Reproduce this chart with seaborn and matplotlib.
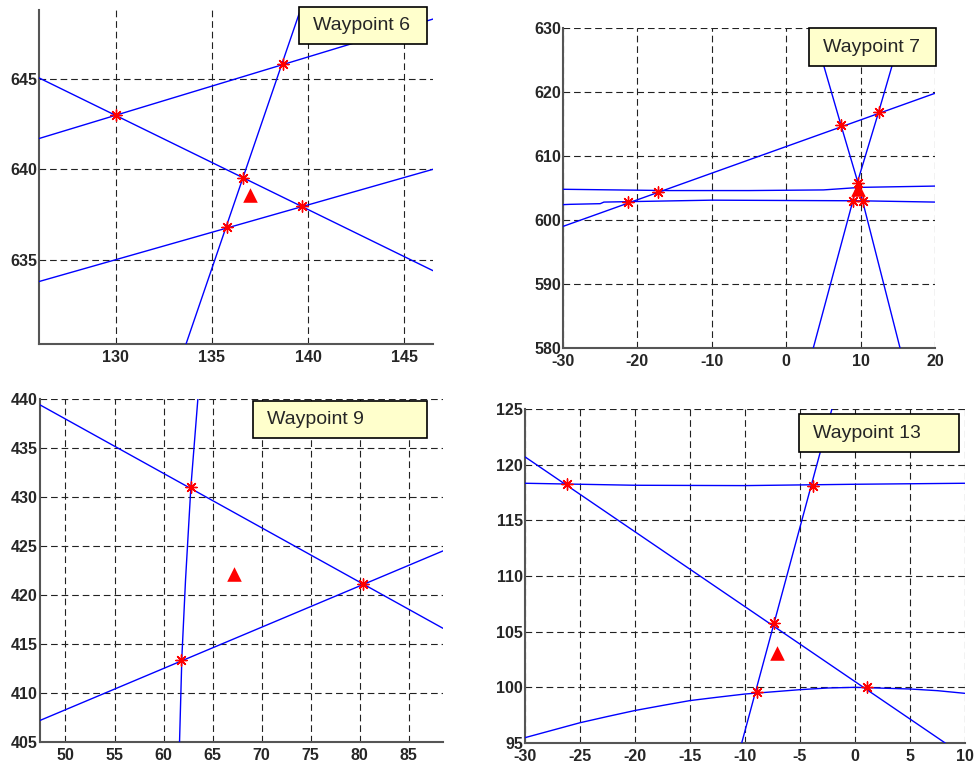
import numpy as np
import pandas as pd
import matplotlib
matplotlib.use("Agg")
import matplotlib.pyplot as plt
import matplotlib.patches as mpatches
import seaborn as sns

sns.set_style("white")
plt.rcParams['font.family'] = ['Liberation Sans', 'DejaVu Sans']
plt.rcParams['axes.unicode_minus'] = False

# ---------------- data ----------------
# Waypoint 6
wp6_lines_x = [[126, 146.5], [126, 146.5], [126, 146.5], [133.65, 139.6]]
wp6_lines_y = [[641.7, 648.3], [645.05, 634.4], [633.8, 640.0], [630.35, 648.8]]
wp6_star_x = [130.0, 138.7, 136.6, 139.7, 135.8]
wp6_star_y = [643.0, 645.8, 639.5, 638.0, 636.8]
wp6_tri_x = [137.0]
wp6_tri_y = [638.6]
wp6_xticks = [130, 135, 140, 145]
wp6_yticks = [635, 640, 645]

# Waypoint 7
wp7_lines_x = [[-30, 20],
               [-30, -16, -5, 5, 10, 20],
               [-30, -29, -25, -24.5, -10, 10, 20],
               [3.6, 5.0, 7.37, 9.6, 10.28, 15.3],
               [3.64, 8.94, 9.6, 12.43, 15.7]]
wp7_lines_y = [[599.0, 619.8],
               [604.8, 604.6, 604.6, 604.7, 605.1, 605.3],
               [602.4, 602.45, 602.55, 602.8, 603.1, 603.0, 602.8],
               [630.0, 624.3, 614.8, 606.0, 602.9, 580.0],
               [580.0, 602.9, 606.0, 616.9, 630.0]]
wp7_star_x = [-21.2, -17.2, 7.37, 12.43, 8.94, 10.28, 9.6]
wp7_star_y = [602.8, 604.4, 614.8, 616.9, 602.9, 602.9, 605.8]
wp7_tri_x = [9.6]
wp7_tri_y = [604.9]
wp7_xticks = [-30, -20, -10, 0, 10, 20]
wp7_yticks = [580, 590, 600, 610, 620, 630]

# Waypoint 9
wp9_lines_x = [[47.4, 88.5], [47.4, 88.5], [61.63, 61.87, 62.24, 62.79, 63.5]]
wp9_lines_y = [[439.4, 416.6], [407.2, 424.5], [405.0, 413.7, 421.5, 431.05, 440.0]]
wp9_star_x = [62.8, 61.8, 80.3]
wp9_star_y = [431.0, 413.4, 421.1]
wp9_tri_x = [67.2]
wp9_tri_y = [422.1]
wp9_xticks = [50, 55, 60, 65, 70, 75, 80, 85]
wp9_yticks = [405, 410, 415, 420, 425, 430, 435, 440]

# Waypoint 13
wp13_lines_x = [[-30, 8.2],
                [-30, -20, -10, 0, 10],
                [-10.3, -2.1],
                [-30, -25, -22.5, -20, -17.4, -15, -12.6, -10, -5, -2.5, 0, 5, 7.5, 10]]
wp13_lines_y = [[120.7, 95.0],
                [118.33, 118.15, 118.12, 118.24, 118.33],
                [95.0, 125.0],
                [95.48, 96.82, 97.38, 97.92, 98.39, 98.81, 99.1, 99.40, 99.79, 99.94,
                 100.0, 99.85, 99.7, 99.46]]
wp13_star_x = [-26.15, -3.79, -7.33, -8.94, 1.1]
wp13_star_y = [118.24, 118.1, 105.77, 99.55, 100.0]
wp13_tri_x = [-7.1]
wp13_tri_y = [103.1]
wp13_xticks = [-30, -25, -20, -15, -10, -5, 0, 5, 10]
wp13_yticks = [95, 100, 105, 110, 115, 120, 125]

labels = ["Waypoint 6", "Waypoint 7", "Waypoint 9", "Waypoint 13"]

# ---------------- layout ----------------
W, H = 976, 767
fig = plt.figure(figsize=(W / 100, H / 100), dpi=100)


def px_rect(l, t, r, b):
    return [l / W, 1 - b / H, (r - l) / W, (b - t) / H]


panels = [
    dict(rect=px_rect(39, 10, 433, 344), lx=wp6_lines_x, ly=wp6_lines_y,
         sx=wp6_star_x, sy=wp6_star_y, tx=wp6_tri_x, ty=wp6_tri_y,
         xt=wp6_xticks, yt=wp6_yticks, xlim=(126, 146.5), ylim=(630.35, 648.8),
         box=(299, 7, 427, 44), txt=(313, 26)),
    dict(rect=px_rect(563, 28, 935, 348), lx=wp7_lines_x, ly=wp7_lines_y,
         sx=wp7_star_x, sy=wp7_star_y, tx=wp7_tri_x, ty=wp7_tri_y,
         xt=wp7_xticks, yt=wp7_yticks, xlim=(-30, 20), ylim=(580, 630),
         box=(809, 28, 936, 66), txt=(823, 47)),
    dict(rect=px_rect(40, 399, 443, 742), lx=wp9_lines_x, ly=wp9_lines_y,
         sx=wp9_star_x, sy=wp9_star_y, tx=wp9_tri_x, ty=wp9_tri_y,
         xt=wp9_xticks, yt=wp9_yticks, xlim=(47.4, 88.5), ylim=(405, 440),
         box=(253, 401, 427, 438), txt=(267, 420)),
    dict(rect=px_rect(525, 409, 965, 743), lx=wp13_lines_x, ly=wp13_lines_y,
         sx=wp13_star_x, sy=wp13_star_y, tx=wp13_tri_x, ty=wp13_tri_y,
         xt=wp13_xticks, yt=wp13_yticks, xlim=(-30, 10), ylim=(95, 125),
         box=(799, 414, 959, 452), txt=(813, 434)),
]

asterisk = (8, 2, 0)

for p, lab in zip(panels, labels):
    ax = fig.add_axes(p["rect"])
    for xs, ys in zip(p["lx"], p["ly"]):
        df = pd.DataFrame({"x": xs, "y": ys})
        sns.lineplot(data=df, x="x", y="y", sort=False, estimator=None,
                     color="#0000ff", linewidth=1.0, ax=ax, zorder=3)
    sns.scatterplot(x=p["sx"], y=p["sy"], marker=asterisk, s=65,
                    color="red", edgecolor="red", linewidth=1.0, ax=ax, zorder=4)
    sns.scatterplot(x=p["tx"], y=p["ty"], marker="^", s=110,
                    color="red", edgecolor="red", linewidth=0, ax=ax, zorder=5)
    ax.set_xlim(*p["xlim"])
    ax.set_ylim(*p["ylim"])
    ax.set_xticks(p["xt"])
    ax.set_yticks(p["yt"])
    ax.set_xlabel("")
    ax.set_ylabel("")
    ax.grid(True, color="#222222", linestyle=(0, (6, 3.5)), linewidth=0.8)
    ax.set_axisbelow(True)
    for s in ["top", "right"]:
        ax.spines[s].set_visible(False)
    for s in ["left", "bottom"]:
        ax.spines[s].set_color("#555555")
        ax.spines[s].set_linewidth(1.5)
    ax.tick_params(direction="in", length=4, width=0.8, color="#555555",
                   labelsize=11.5)
    ax.tick_params(axis="y", pad=1.5)
    ax.tick_params(axis="x", pad=4.5)
    for t in ax.get_xticklabels() + ax.get_yticklabels():
        t.set_fontweight("bold")
    l, t_, r, b = p["box"]
    rect = mpatches.Rectangle((l / W, 1 - b / H), (r - l) / W, (b - t_) / H,
                              transform=fig.transFigure, facecolor="#ffffcc",
                              edgecolor="black", linewidth=1.2, zorder=10)
    fig.add_artist(rect)
    fig.text(p["txt"][0] / W, 1 - p["txt"][1] / H, lab, fontsize=14,
             ha="left", va="center", zorder=11)

fig.savefig("out.png", dpi=100)
